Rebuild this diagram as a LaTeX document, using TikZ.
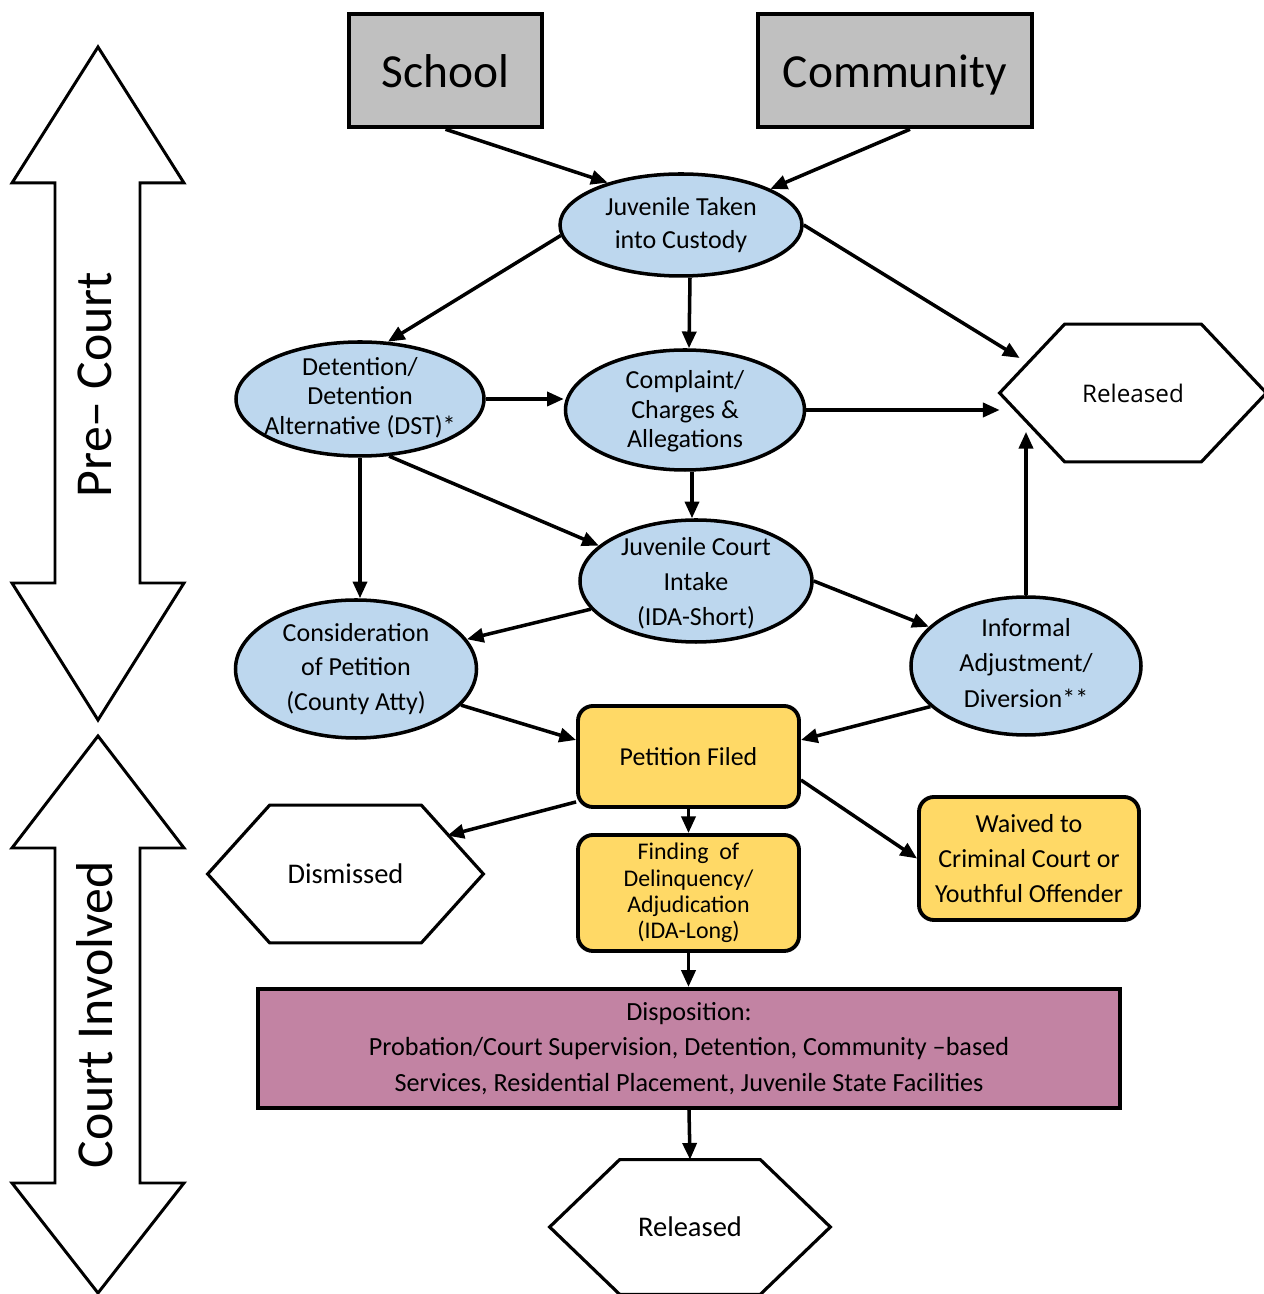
\documentclass[tikz,border=0pt]{standalone}
\usepackage{fontspec}
\setmainfont{Carlito}
\newfontfamily\relfont{Open Sans}
\usepackage{tikz}
\usetikzlibrary{shapes.geometric,arrows.meta}

\definecolor{srcgray}{RGB}{192,192,192}
\definecolor{bubblue}{RGB}{189,215,238}
\definecolor{boxgold}{RGB}{255,217,102}
\definecolor{dispmauve}{RGB}{194,131,163}

\tikzset{
  srcbox/.style={draw, line width=2.6pt, fill=srcgray, text height=19pt, text depth=0pt, font=\fontsize{27}{32}\selectfont},
  bubble/.style={ellipse, draw, line width=2pt, fill=bubblue, inner sep=0pt},
  bubtxt/.style={align=center, inner sep=0pt, font=\fontsize{14.8}{#1}\selectfont},
  goldbox/.style={draw, line width=2.2pt, fill=boxgold, rounded corners=8.5pt, align=center, inner sep=0pt},
  hexnode/.style={inner sep=0pt, font=\fontsize{16.2}{19}\selectfont},
  hexline/.style={line width=1.8pt},
  sidelabel/.style={rotate=90, font=\fontsize{29.5}{34}\selectfont},
  bigarrow/.style={line width=1.7pt, fill=white},
  arr/.style={line width=2pt, -{Triangle[length=9.5pt,width=8pt]}}
}

\begin{document}
\begin{tikzpicture}

\useasboundingbox (0,0) rectangle (25.28,25.88);

\draw [bigarrow] (1.96,24.94) -- (3.68,22.22) -- (2.80,22.22) -- (2.80,14.22) -- (3.68,14.22) -- (1.96,11.48)
   -- (0.24,14.22) -- (1.10,14.22) -- (1.10,22.22) -- (0.24,22.22) -- cycle;
\draw [bigarrow] (1.96,11.16) -- (3.68,8.92) -- (2.80,8.92) -- (2.80,2.22) -- (3.68,2.22) -- (1.96,0.02)
   -- (0.24,2.22) -- (1.10,2.22) -- (1.10,8.92) -- (0.24,8.92) -- cycle;

 \node (precourt) at (1.9, 18.19) [sidelabel] {Pre-- Court};
 \node (courtinv) at (1.9, 5.58) [sidelabel] {Court Involved};


\node (school) at (8.91, 24.47) [srcbox, minimum width=3.86cm, minimum height=2.26cm] {School};
\node (comm) at (17.90, 24.47) [srcbox, minimum width=5.48cm, minimum height=2.26cm] {Community};

\node (jtc) at (13.62, 21.38) [bubble, minimum width=4.84cm, minimum height=2.04cm] {};
\node (det) at (7.20, 17.90) [bubble, minimum width=4.96cm, minimum height=2.28cm] {};
\node (cmp) at (13.70, 17.68) [bubble, minimum width=4.78cm, minimum height=2.40cm] {};
\node (jci) at (13.92, 14.26) [bubble, minimum width=4.64cm, minimum height=2.44cm] {};
\node (con) at (7.12, 12.50) [bubble, minimum width=4.82cm, minimum height=2.76cm] {};
\node (inf) at (20.52, 12.56) [bubble, minimum width=4.60cm, minimum height=2.76cm] {};

 \node (jtctxt) at (jtc) [bubtxt=19] {Juvenile Taken\\into Custody};
 \node (dettxt) at ([yshift=0.03cm]det) [bubtxt=16.8] {Detention/\\Detention\\Alternative (DST)*};
 \node (cmptxt) at ([yshift=-0.03cm]cmp) [bubtxt=16.8] {Complaint/\\Charges \&\\Allegations};
 \node (jcitxt) at ([yshift=-0.04cm]jci) [bubtxt=20] {Juvenile Court\\Intake\\(IDA-Short)};
 \node (contxt) at (con) [bubtxt=19.6] {Consideration\\of Petition\\(County Atty)};
 \node (inftxt) at ([yshift=0.06cm]inf) [bubtxt=20] {Informal\\Adjustment/\\Diversion**};

\node (relA) at (22.66, 18.02) [hexnode, minimum width=5.32cm, minimum height=2.74cm, font=\relfont\fontsize{13.8}{16}\selectfont] {Released};
\draw [hexline] (relA.west) -- ([xshift=1.3cm]relA.north west) -- ([xshift=-1.3cm]relA.north east) -- (relA.east)
   -- ([xshift=-1.3cm]relA.south east) -- ([xshift=1.3cm]relA.south west) -- cycle;
\coordinate (relAbot) at ([yshift=0.6cm]relA.south);

\node (pet) at (13.77, 10.75) [goldbox, minimum width=4.42cm, minimum height=2.02cm, font=\fontsize{14.7}{18}\selectfont] {Petition Filed};
\node (fin) at (13.77, 8.02) [goldbox, minimum width=4.42cm, minimum height=2.32cm, font=\fontsize{13.6}{15}\selectfont] {Finding~ of\\Delinquency/\\Adjudication\\(IDA-Long)};
\node (wav) at (20.58, 8.71) [goldbox, minimum width=4.40cm, minimum height=2.46cm, font=\fontsize{14.8}{20}\selectfont] {Waived to\\Criminal Court or\\Youthful Offender};

\node (dis) at (6.91, 8.40) [hexnode, minimum width=5.50cm, minimum height=2.74cm] {Dismissed};
\draw [hexline] (dis.west) -- ([xshift=1.24cm]dis.north west) -- ([xshift=-1.24cm]dis.north east) -- (dis.east)
   -- ([xshift=-1.24cm]dis.south east) -- ([xshift=1.24cm]dis.south west) -- cycle;

\node (disp) at (13.78, 4.91) [draw, line width=2.4pt, fill=dispmauve, minimum width=17.24cm, minimum height=2.38cm, align=center, font=\fontsize{14.9}{20}\selectfont]
   {Disposition:\\Probation/Court Supervision, Detention, Community --based\\Services, Residential Placement, Juvenile State Facilities};

\node (relB) at (13.80, 1.34) [hexnode, minimum width=5.60cm, minimum height=2.68cm] {Released};
\draw [hexline] (relB.west) -- ([xshift=1.4cm]relB.north west) -- ([xshift=-1.4cm]relB.north east) -- (relB.east)
   -- ([xshift=-1.4cm]relB.south east) -- ([xshift=1.4cm]relB.south west) -- cycle;


\draw [arr] (school.south) -- (jtc.150);
\draw [arr] ([xshift=0.3cm]comm.south) -- (jtc.22);
\draw [arr] (jtc.185) -- (det.64);
\draw [arr] ([xshift=0.18cm]jtc.south) -- ([xshift=0.08cm]cmp.north);
\draw [arr] (jtc.east) -- ([xshift=0.4cm,yshift=0.7cm]relA.west);
\draw [arr] (det.east) -- (det.east -| cmp.west);
\draw [arr] (cmp.east) -- (cmp.east -| relA.west);
\draw [arr] (det.-63) -- (jci.160);
\draw [arr] (det.south) -- (det.south |- con.north);
\draw [arr] ([xshift=0.14cm]cmp.south) -- ([xshift=-0.08cm]jci.north);
\draw [arr] (jci.195) -- (con.15);
\draw [arr] (jci.east) -- (inf.158);
\draw [arr] (inf.north) -- (inf.north |- relAbot);
\draw [arr] (con.-19) -- ([yshift=0.33cm]pet.west);
\draw [arr] (inf.203) -- ([yshift=0.33cm]pet.east);
\draw [arr] ([yshift=0.14cm]pet.south west) -- ([xshift=-0.72cm,yshift=-0.61cm]dis.north east);
\draw [arr] (pet.south) -- (fin.north);
\draw [arr] ([yshift=-0.47cm]pet.east) -- (wav.west);
\draw [arr] (fin.south) -- (fin.south |- disp.north);
\draw [arr] (disp.south) -- (relB.north);

    \end{tikzpicture}
\end{document}
